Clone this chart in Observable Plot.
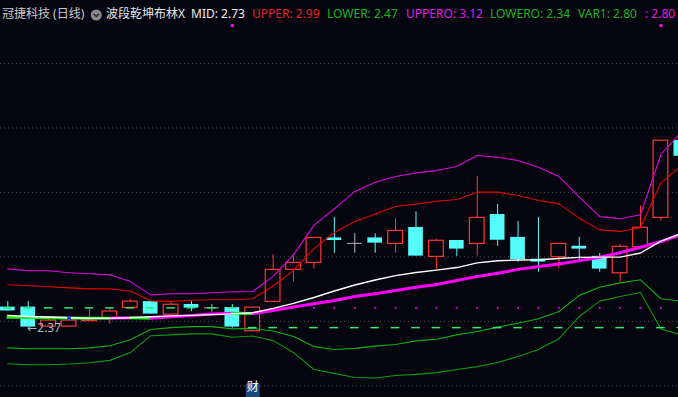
<!DOCTYPE html>
<html><head><meta charset="utf-8">
<script src="https://cdn.jsdelivr.net/npm/d3@7"></script>
<script src="https://cdn.jsdelivr.net/npm/@observablehq/plot@0.6"></script>
<style>
html,body{margin:0;padding:0;background:#05050f;}
#wrap{position:relative;width:678px;height:397px;overflow:hidden;background:#05050f;}
#hdr span{position:absolute;top:8px;font-size:12px;line-height:12px;font-family:"Noto Sans","Noto Sans CJK SC",sans-serif;white-space:nowrap;}
#icon{position:absolute;left:90px;top:9px;}
</style></head><body>
<div id="wrap"><div id="chart"></div><div id="hdr"></div>
<svg id="icon" width="13" height="13"><circle cx="6.3" cy="6" r="5.5" fill="#8a8a8a"/><polyline points="3.6,4.8 6.3,7.5 9,4.8" fill="none" stroke="#222" stroke-width="1.4"/></svg>
</div>
<script>
// ---- data (daily bars, oldest -> newest) ----
const opens  = [2.447,2.447,2.372,2.372,2.393,2.404,2.444,2.468,2.418,2.457,2.444,2.445,2.354,2.467,2.590,2.617,2.713,2.692,2.713,2.690,2.753,2.640,2.703,2.690,2.803,2.715,2.631,2.639,2.681,2.642,2.577,2.677,2.790,3.088];
const highs  = [2.468,2.468,2.407,2.395,2.445,2.445,2.477,2.468,2.465,2.468,2.457,2.457,2.445,2.649,2.649,2.713,2.792,2.729,2.729,2.787,2.813,2.708,2.703,2.949,2.842,2.776,2.792,2.690,2.715,2.653,2.688,2.837,3.087,3.100];
const lows   = [2.432,2.370,2.372,2.370,2.393,2.380,2.440,2.420,2.418,2.430,2.427,2.366,2.354,2.467,2.543,2.593,2.654,2.654,2.654,2.654,2.643,2.592,2.642,2.643,2.681,2.620,2.581,2.593,2.620,2.581,2.542,2.672,2.777,3.020];
const closes = [2.432,2.370,2.395,2.395,2.399,2.430,2.468,2.420,2.456,2.443,2.444,2.370,2.445,2.590,2.617,2.713,2.703,2.692,2.693,2.740,2.643,2.702,2.670,2.790,2.704,2.629,2.620,2.690,2.670,2.593,2.679,2.752,3.087,3.027];

const mid    = [2.415,2.411,2.409,2.406,2.404,2.404,2.406,2.410,2.413,2.415,2.418,2.421,2.425,2.442,2.461,2.484,2.509,2.532,2.551,2.568,2.580,2.589,2.599,2.617,2.625,2.628,2.629,2.634,2.638,2.639,2.639,2.655,2.701,2.730];
const upper  = [2.533,2.529,2.525,2.521,2.517,2.517,2.509,2.471,2.469,2.473,2.475,2.475,2.479,2.528,2.588,2.672,2.734,2.776,2.805,2.834,2.843,2.854,2.861,2.889,2.889,2.876,2.857,2.844,2.789,2.744,2.738,2.752,2.925,2.990];
const lower  = [2.290,2.287,2.287,2.287,2.290,2.298,2.321,2.361,2.368,2.372,2.372,2.363,2.365,2.355,2.334,2.295,2.284,2.288,2.297,2.303,2.317,2.323,2.340,2.353,2.370,2.385,2.402,2.430,2.492,2.523,2.540,2.552,2.479,2.470];
const uppero = [2.594,2.587,2.587,2.579,2.575,2.571,2.545,2.494,2.498,2.498,2.502,2.506,2.507,2.565,2.649,2.761,2.825,2.892,2.927,2.949,2.963,2.972,2.988,3.030,3.023,3.011,2.985,2.949,2.870,2.795,2.787,2.802,3.034,3.120];
const lowero = [2.229,2.225,2.225,2.228,2.233,2.242,2.272,2.337,2.340,2.344,2.344,2.331,2.336,2.318,2.272,2.207,2.192,2.176,2.174,2.184,2.188,2.195,2.207,2.218,2.234,2.257,2.284,2.325,2.411,2.470,2.488,2.503,2.363,2.340];
const var1   = [2.408,2.407,2.406,2.405,2.404,2.404,2.406,2.404,2.410,2.415,2.420,2.423,2.422,2.434,2.447,2.460,2.472,2.488,2.498,2.511,2.523,2.534,2.549,2.565,2.577,2.592,2.603,2.613,2.625,2.639,2.656,2.677,2.699,2.726];
const var1Legend = 2.80;

// support level ticks per bar
const stopLevel = [2.444,2.444,2.444,2.444,2.444,2.444,2.444,2.444,2.444,2.444,2.444,2.444,
                   2.368,2.368,2.368,2.368,2.368,2.368,2.368,2.368,2.368,2.368,2.368,2.368,2.368,2.368,2.368,2.368,2.368,2.368,2.368,2.368,2.368,2.368];
const dotBars = [15,16,17,18,19,20,21,22,23,24,25,26,27,28,29,30,31,32];
const dotLevel = 2.444;
const topMarkBars = [11, 32];
const finBars = [12];
const blueBars = [3];
const lowLabel = [{bar: 1, value: 2.37}];
const gridLevels = [3.384, 3.136, 2.888, 2.640, 2.392, 2.144];

const stockName = "冠捷科技 (日线)";
const indicatorName = "波段乾坤布林X";

// ---- styles ----
const BG = "#05050f", RED = "#ff3535", CYAN = "#54fcfc", GRAY = "#b4b4b4";
const MAG = "#ff00ff", GRN = "#1ee61e";

// ---- header ----
const hdrItems = [
  {t: stockName, x: 2, c: "#c9c9cf"},
  {t: indicatorName, x: 106, c: "#e6e6e6"},
  {t: "MID: " + mid.at(-1).toFixed(2), x: 191, c: "#ececec"},
  {t: "UPPER: " + upper.at(-1).toFixed(2), x: 252, c: "#e81e1e"},
  {t: "LOWER: " + lower.at(-1).toFixed(2), x: 327, c: "#1cb41c"},
  {t: "UPPERO: " + uppero.at(-1).toFixed(2), x: 406, c: "#e01ee0"},
  {t: "LOWERO: " + lowero.at(-1).toFixed(2), x: 490, c: "#1cb41c"},
  {t: "VAR1: " + var1Legend.toFixed(2), x: 578, c: "#1cb41c"},
  {t: ": " + var1Legend.toFixed(2), x: 645, c: "#e01ee0"}
];
const hdr = document.getElementById("hdr");
for (const it of hdrItems) {
  const s = document.createElement("span");
  s.textContent = it.t; s.style.left = it.x + "px"; s.style.color = it.c;
  hdr.appendChild(s);
}

// ---- derived tables ----
const candles = opens.map((o, i) => ({i, o, h: highs[i], l: lows[i], c: closes[i]}));
const upC = candles.filter(d => d.c > d.o);
const downC = candles.filter(d => d.c < d.o);
const dojiC = candles.filter(d => d.c === d.o);
const colOf = d => d.c > d.o ? RED : d.c < d.o ? CYAN : GRAY;
const ser = arr => arr.map((v, i) => ({i, v}));
const var1Seg = var1.slice(1).map((v, k) => ({i0: k, v0: var1[k], i1: k + 1, v1: v, rising: v > var1[k]}));
const stopTicks = stopLevel.map((v, i) => ({i, v}));
const HW = 0.36, TW = 0.21;

const chart = Plot.plot({
  width: 678, height: 397, margin: 0,
  x: {domain: [-0.35767, 32.8614], range: [0, 678], axis: null},
  y: {domain: [2.09923, 3.62615], range: [397, 0], axis: null},
  color: {type: "identity"},
  style: {background: BG, overflow: "hidden"},
  marks: [
    Plot.ruleY(gridLevels, {stroke: "#4c4c4c", strokeDasharray: "1,3"}),
    // candles
    Plot.ruleX(candles, {x: "i", y1: "l", y2: "h", stroke: colOf, strokeWidth: 1}),
    Plot.rect(upC, {x1: d => d.i - HW, x2: d => d.i + HW, y1: "o", y2: "c", fill: BG, stroke: RED, strokeWidth: 1.2}),
    Plot.rect(downC, {x1: d => d.i - HW, x2: d => d.i + HW, y1: "o", y2: "c", fill: CYAN}),
    Plot.ruleY(dojiC, {y: "o", x1: d => d.i - HW, x2: d => d.i + HW, stroke: GRAY, strokeWidth: 1}),
    // bands
    Plot.line(ser(uppero), {x: "i", y: "v", stroke: "#e000e0", strokeWidth: 1.1}),
    Plot.line(ser(upper), {x: "i", y: "v", stroke: "#e80000", strokeWidth: 1.1}),
    Plot.line(ser(lower), {x: "i", y: "v", stroke: "#10b010", strokeWidth: 1.1}),
    Plot.line(ser(lowero), {x: "i", y: "v", stroke: "#0c9a0c", strokeWidth: 1.1}),
    // VAR1 two-colour thick line
    Plot.link(var1Seg, {x1: "i0", y1: "v0", x2: "i1", y2: "v1", stroke: d => d.rising ? MAG : GRN, strokeWidth: 3, strokeLinecap: "round"}),
    // MID
    Plot.line(ser(mid), {x: "i", y: "v", stroke: "#ffffff", strokeWidth: 1.4}),
    // support ticks and markers
    Plot.ruleY(stopTicks, {y: "v", x1: d => d.i - TW, x2: d => d.i + TW, stroke: "#2ee872", strokeWidth: 1.5}),
    Plot.dot(dotBars, {x: d => d, y: () => dotLevel, symbol: "square", r: 1.13, fill: "#d000d0"}),
    Plot.dot(blueBars, {x: d => d, y: d => var1[d], symbol: "square", r: 2, fill: "#2a2aff"}),
    Plot.dot(topMarkBars, {x: d => d, frameAnchor: "top", dy: 25, symbol: "square", r: 1.7, fill: MAG}),
    Plot.text(lowLabel, {x: "bar", y: "value", text: d => "←" + d.value.toFixed(2), textAnchor: "start", dx: -1, dy: 1.5, fill: "#aab3c4", fontSize: 12, fontFamily: "Noto Sans, DejaVu Sans, sans-serif"}),
    Plot.dot(finBars, {x: d => d, frameAnchor: "bottom", dy: -7, symbol: "square", r: 7.9, fill: "#174a80"}),
    Plot.text(finBars, {x: d => d, text: () => "财", frameAnchor: "bottom", dy: -7, fill: "#ffffff", fontSize: 12, fontFamily: "Noto Sans CJK SC"})
  ]
});
document.getElementById("chart").appendChild(chart);
</script></body></html>
